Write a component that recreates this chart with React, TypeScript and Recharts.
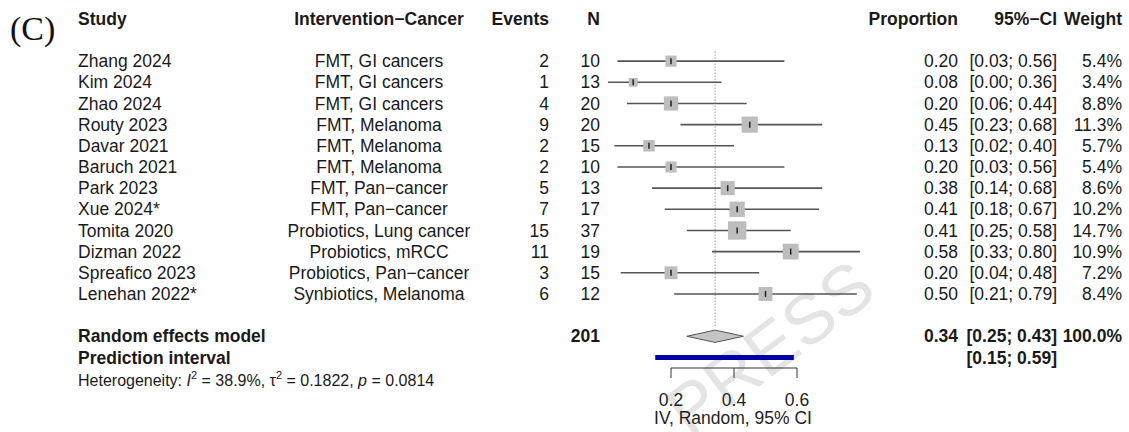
import React from 'react';
import { ComposedChart, Scatter, XAxis, YAxis, ReferenceLine, ErrorBar } from 'recharts';

// Study-level data
const studies = ['Zhang 2024', 'Kim 2024', 'Zhao 2024', 'Routy 2023', 'Davar 2021', 'Baruch 2021', 'Park 2023', 'Xue 2024*', 'Tomita 2020', 'Dizman 2022', 'Spreafico 2023', 'Lenehan 2022*'];
const interventions = ['FMT, GI cancers', 'FMT, GI cancers', 'FMT, GI cancers', 'FMT, Melanoma', 'FMT, Melanoma', 'FMT, Melanoma', 'FMT, Pan−cancer', 'FMT, Pan−cancer', 'Probiotics, Lung cancer', 'Probiotics, mRCC', 'Probiotics, Pan−cancer', 'Synbiotics, Melanoma'];
const events = [2, 1, 4, 9, 2, 2, 5, 7, 15, 11, 3, 6];
const totals = [10, 13, 20, 20, 15, 10, 13, 17, 37, 19, 15, 12];
const proportions = [0.20, 0.08, 0.20, 0.45, 0.13, 0.20, 0.38, 0.41, 0.41, 0.58, 0.20, 0.50];
const ciLower = [0.03, 0.00, 0.06, 0.23, 0.02, 0.03, 0.14, 0.18, 0.25, 0.33, 0.04, 0.21];
const ciUpper = [0.56, 0.36, 0.44, 0.68, 0.40, 0.56, 0.68, 0.67, 0.58, 0.80, 0.48, 0.79];
const weights = [5.4, 3.4, 8.8, 11.3, 5.7, 5.4, 8.6, 10.2, 14.7, 10.9, 7.2, 8.4];

// Pooled estimate
const summaryEst = 0.34;
const summaryLower = 0.25;
const summaryUpper = 0.43;
const summaryN = 201;
const predLower = 0.15;
const predUpper = 0.59;
const i2Text = '38.9%';
const tau2Text = '0.1822';
const pText = '0.0814';

const xTicks = [0.2, 0.4, 0.6];

const FONT = '"Liberation Sans", Arial, Helvetica, sans-serif';
const FS = 17.5;
const TEXT = '#1a1a1a';

// column anchors (px)
const COL = { study: 78, intervention: 379, events: 549, n: 600, prop: 958, ci: 1057, weight: 1122 };

const SUMMARY_ROW = studies.length + 2;
const PRED_ROW = studies.length + 3;

const rows = studies.map((study, i) => ({
  row: i + 1,
  study,
  intervention: interventions[i],
  events: events[i],
  n: totals[i],
  est: proportions[i],
  lo: ciLower[i],
  hi: ciUpper[i],
  weight: weights[i],
  ciErr: [proportions[i] - ciLower[i], ciUpper[i] - proportions[i]],
}));

const summaryRow = [{ est: summaryEst, row: SUMMARY_ROW }];
const predLabelRow = [{ est: summaryEst, row: PRED_ROW }];
const diamondHalf = 0.29;
const diamondPoints = [
  { est: summaryLower, row: SUMMARY_ROW },
  { est: summaryEst, row: SUMMARY_ROW - diamondHalf },
  { est: summaryUpper, row: SUMMARY_ROW },
  { est: summaryEst, row: SUMMARY_ROW + diamondHalf },
];
const predPoints = [
  { est: predLower, row: PRED_ROW },
  { est: predUpper, row: PRED_ROW },
];

const fmt2 = (v: number) => v.toFixed(2);
const ciText = (lo: number, hi: number) => `[${fmt2(lo)}; ${fmt2(hi)}]`;

// square area proportional to weight
const StudySquare = ({ cx, cy, payload }: any) => {
  const s = 4.8 * Math.sqrt(payload.weight);
  return (
    <g>
      <rect x={cx - s / 2} y={cy - s / 2} width={s} height={s} fill="#bdbdbd" />
      <line x1={cx} x2={cx} y1={cy - 3} y2={cy + 3} stroke="#222" strokeWidth={1.5} />
    </g>
  );
};

const TableRow = ({ cy, payload }: any) => (
  <g fontFamily={FONT} fontSize={FS} fill={TEXT}>
    <text x={COL.study} y={cy} dy="0.35em">{payload.study}</text>
    <text x={COL.intervention} y={cy} dy="0.35em" textAnchor="middle">{payload.intervention}</text>
    <text x={COL.events} y={cy} dy="0.35em" textAnchor="end">{payload.events}</text>
    <text x={COL.n} y={cy} dy="0.35em" textAnchor="end">{payload.n}</text>
    <text x={COL.prop} y={cy} dy="0.35em" textAnchor="end">{fmt2(payload.est)}</text>
    <text x={COL.ci} y={cy} dy="0.35em" textAnchor="end">{ciText(payload.lo, payload.hi)}</text>
    <text x={COL.weight} y={cy} dy="0.35em" textAnchor="end">{payload.weight.toFixed(1)}%</text>
  </g>
);

const SummaryText = ({ cy }: any) => (
  <g fontFamily={FONT} fontSize={FS} fill={TEXT} fontWeight="bold">
    <text x={COL.study} y={cy} dy="0.35em">Random effects model</text>
    <text x={COL.n} y={cy} dy="0.35em" textAnchor="end">{summaryN}</text>
    <text x={COL.prop} y={cy} dy="0.35em" textAnchor="end">{fmt2(summaryEst)}</text>
    <text x={COL.ci} y={cy} dy="0.35em" textAnchor="end">{ciText(summaryLower, summaryUpper)}</text>
    <text x={COL.weight} y={cy} dy="0.35em" textAnchor="end">100.0%</text>
  </g>
);

const PredText = ({ cy }: any) => (
  <g fontFamily={FONT} fontSize={FS} fill={TEXT} fontWeight="bold">
    <text x={COL.study} y={cy} dy="0.35em">Prediction interval</text>
    <text x={COL.ci} y={cy} dy="0.35em" textAnchor="end">{ciText(predLower, predUpper)}</text>
  </g>
);

const Hidden = () => <g />;

const Diamond = (props: any) => {
  const pts = props.points.map((p: any) => `${p.x},${p.y}`).join(' ');
  return <polygon points={pts} fill="#c4c4c4" stroke="#555" strokeWidth={1} />;
};

export default function App() {
  return (
    <div style={{ position: 'absolute', left: 0, top: 0, width: 1129, height: 432, background: '#fff', overflow: 'hidden' }}>
      <ComposedChart width={1129} height={432} margin={{ top: 40, right: 206, bottom: 0, left: 608 }}>
        {/* faint watermark */}
        <text
          x={770}
          y={348}
          textAnchor="middle"
          dominantBaseline="central"
          fontFamily={FONT}
          fontSize={70}
          fill="#e4e4e4"
          transform="rotate(-37 770 348)"
        >
          PRESS
        </text>

        <XAxis
          type="number"
          dataKey="est"
          domain={[0, 1]}
          ticks={xTicks}
          interval={0}
          axisLine={false}
          tickLine={{ stroke: '#333' }}
          tickSize={10}
          tickMargin={16}
          height={64}
          tick={{ fontSize: FS, fill: '#222', fontFamily: FONT }}
        />
        <YAxis type="number" dataKey="row" domain={[0, PRED_ROW + 0.5]} reversed hide />

        <ReferenceLine
          segment={[{ x: summaryEst, y: 0.55 }, { x: summaryEst, y: SUMMARY_ROW - 0.5 }]}
          stroke="#6a6a6a"
          strokeDasharray="1 2"
          ifOverflow="visible"
        />
        <ReferenceLine
          segment={[{ x: xTicks[0], y: PRED_ROW + 0.5 }, { x: xTicks[xTicks.length - 1], y: PRED_ROW + 0.5 }]}
          stroke="#333"
          ifOverflow="visible"
        />

        <Scatter data={rows} shape={<StudySquare />} isAnimationActive={false}>
          <ErrorBar dataKey="ciErr" direction="x" width={0} stroke="#555" strokeWidth={1.6} />
        </Scatter>
        <Scatter data={rows} shape={<TableRow />} isAnimationActive={false} />

        <Scatter data={diamondPoints} shape={<Hidden />} line={Diamond} isAnimationActive={false} />
        <Scatter data={summaryRow} shape={<SummaryText />} isAnimationActive={false} />

        <Scatter
          data={predPoints}
          shape={<Hidden />}
          line={{ stroke: '#0000a8', strokeWidth: 5 }}
          isAnimationActive={false}
        />
        <Scatter data={predLabelRow} shape={<PredText />} isAnimationActive={false} />

        {/* headers and footnotes */}
        <text x={10} y={40} fontFamily='"Liberation Serif", "Times New Roman", serif' fontSize={34} fill="#111">(C)</text>
        <g fontFamily={FONT} fontSize={FS} fontWeight="bold" fill={TEXT}>
          <text x={COL.study} y={25}>Study</text>
          <text x={COL.intervention} y={25} textAnchor="middle">Intervention−Cancer</text>
          <text x={COL.events} y={25} textAnchor="end">Events</text>
          <text x={COL.n} y={25} textAnchor="end">N</text>
          <text x={COL.prop} y={25} textAnchor="end">Proportion</text>
          <text x={COL.ci} y={25} textAnchor="end">95%−CI</text>
          <text x={COL.weight} y={25} textAnchor="end">Weight</text>
        </g>
        <text x={COL.study} y={380} dy="0.35em" fontFamily={FONT} fontSize={16} fill={TEXT}>
          Heterogeneity: <tspan fontStyle="italic">I</tspan>
          <tspan dy={-7} fontSize={11}>2</tspan>
          <tspan dy={7}>{` = ${i2Text}, τ`}</tspan>
          <tspan dy={-7} fontSize={11}>2</tspan>
          <tspan dy={7}>{` = ${tau2Text}, `}</tspan>
          <tspan fontStyle="italic">p</tspan>
          <tspan>{` = ${pText}`}</tspan>
        </text>
        <text x={733} y={418} dy="0.35em" textAnchor="middle" fontFamily={FONT} fontSize={FS} fill="#222">
          IV, Random, 95% CI
        </text>
      </ComposedChart>
    </div>
  );
}
